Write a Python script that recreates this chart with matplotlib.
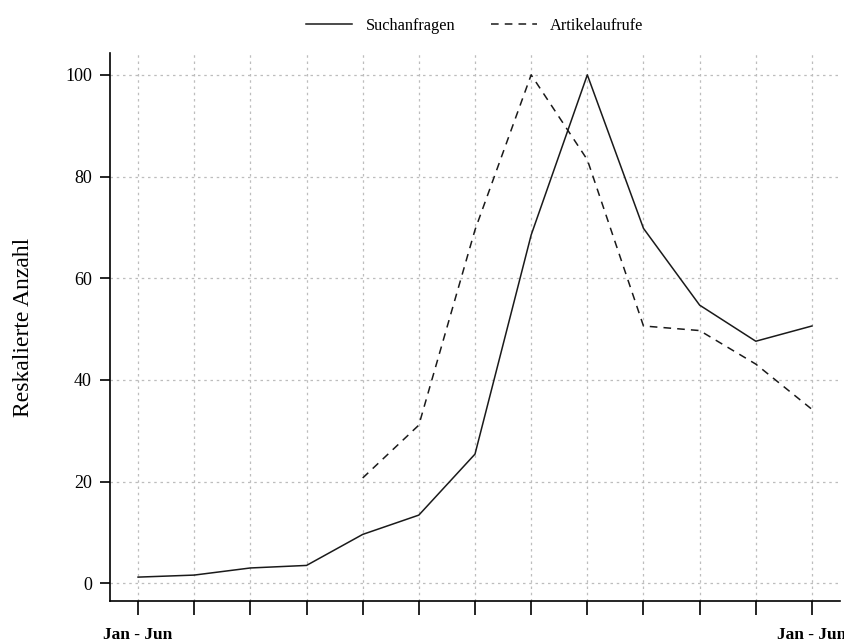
import matplotlib
matplotlib.use("Agg")
import matplotlib.pyplot as plt
import numpy as np

plt.rcParams['font.family'] = ['Liberation Serif', 'DejaVu Serif']

# half-year periods, only first and last labelled
periods = np.arange(13)
tick_labels = ["Jan - Jun"] + [""] * 11 + ["Jan - Jun"]

# rescaled counts
suchanfragen = [1.2, 1.6, 3.0, 3.5, 9.6, 13.4, 25.4, 68.5, 100, 69.8, 54.7, 47.6, 50.6]
artikelaufrufe = [np.nan, np.nan, np.nan, np.nan, 20.7, 31.1, 69.5, 100, 83.3, 50.6, 49.7, 43.1, 34.2]

fig = plt.figure(figsize=(8.44, 6.43), dpi=100)
ax = fig.add_axes([0.1303, 0.0653, 0.865, 0.8523])

ax.plot(periods, suchanfragen, color='#1a1a1a', linewidth=1.1, label='Suchanfragen')
ax.plot(periods, artikelaufrufe, color='#1a1a1a', linewidth=1.1, linestyle=(0, (5, 4)),
        label='Artikelaufrufe')

ax.set_xlim(-0.5, 12.5)
ax.set_ylim(-3.5, 104.3)
ax.set_xticks(periods)
ax.set_xticklabels(tick_labels, fontweight='bold', fontsize=12.5)
ax.set_yticks([0, 20, 40, 60, 80, 100])
ax.tick_params(axis='y', labelsize=13, length=7, width=1.2, pad=6)
ax.tick_params(axis='x', length=10, width=1.2, pad=9)

ax.grid(True, color='#bdbdbd', linestyle=(0, (2, 3)), linewidth=0.9)
ax.set_axisbelow(True)
for s in ['top', 'right']:
    ax.spines[s].set_visible(False)
for s in ['left', 'bottom']:
    ax.spines[s].set_linewidth(1.2)

ax.set_ylabel('Reskalierte Anzahl', fontsize=17, labelpad=22)

ax.legend(loc='lower center', bbox_to_anchor=(0.5, 1.008), ncol=2, frameon=False,
          fontsize=11.8, handlelength=2.8, columnspacing=2.2)

fig.savefig('out.png', dpi=100)
